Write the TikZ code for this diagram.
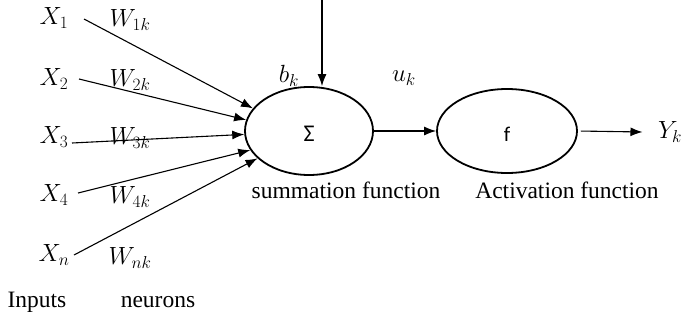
\documentclass[tikz,border=0pt]{standalone}
\usepackage{fontspec}
\setmainfont{Liberation Serif}
\newfontfamily\calib{Carlito}
\usetikzlibrary{shapes.geometric,arrows.meta}
\begin{document}
\begin{tikzpicture}[x=1pt,y=-1pt]
	% Styles
	\tikzstyle{fleche}=[-{Latex[length=12pt,width=9pt]},line width=1.1pt]
	\tikzstyle{cellule}=[ellipse,draw,line width=1.8pt,inner sep=0pt]
	\tikzstyle{etiquette}=[font=\fontsize{24}{28}\selectfont]
	\tikzstyle{commentaire}=[font=\fontsize{23.5}{28}\selectfont]
	% Dimensions
	\def\ColonneX{54}
	\def\ColonneW{130}
	\useasboundingbox (0,0) rectangle (684,324);
	% Noeuds
	\node[etiquette] (X1) at (\ColonneX,18) {$X_1$};
	\node[etiquette] (X2) at (\ColonneX,79) {$X_2$};
	\node[etiquette] (X3) at (\ColonneX,137) {$X_3$};
	\node[etiquette] (X4) at (\ColonneX,195) {$X_4$};
	\node[etiquette] (Xn) at (\ColonneX,255) {$X_n$};
	\node[etiquette] (W1) at (\ColonneW,20) {$W_{1k}$};
	\node[etiquette] (W2) at (\ColonneW,80) {$W_{2k}$};
	\node[etiquette] (W3) at (\ColonneW,138) {$W_{3k}$};
	\node[etiquette] (W4) at (\ColonneW,197) {$W_{4k}$};
	\node[etiquette] (Wn) at (\ColonneW,258) {$W_{nk}$};
	\node[commentaire] (entrees) at (37,302) {Inputs};
	\node[commentaire] (neurones) at (158,302) {neurons};
	%
	\node[cellule,minimum width=128pt,minimum height=88pt] (S) at (309,131) {};
	\node (sigma) at ([yshift=-3pt]S) {\calib\fontsize{24}{28}\selectfont Σ};
	\node[cellule,minimum width=140pt,minimum height=84pt] (F) at (507,131) {};
	\node (f) at ([yshift=-3pt]F) {\calib\fontsize{21}{24}\selectfont f};
	\node[etiquette] (b) at (289,76) {$b_k$};
	\node[etiquette] (u) at (404,78) {$u_k$};
	\node[etiquette] (Y) at (670,132) {$Y_k$};
	\node[commentaire] (somme) at (346,190) {summation function};
	\node[commentaire] (activ) at (567,190) {Activation function};
	% Extremites libres
	\coordinate (a1) at (84,19);
	\coordinate (a2) at (79,79);
	\coordinate (a3) at (72,143);
	\coordinate (a4) at (78,193);
	\coordinate (an) at (74,255);
	\coordinate (haut) at (322,0);
	% Arcs
	\draw[fleche] (a1)--(S.158);
	\draw[fleche] (a2)--(S.170);
	\draw[fleche] (a3)--(S.183);
	\draw[fleche] (a4)--(S.198);
	\draw[fleche] (an)--(S.208);
	\draw[fleche] (haut)--(haut |- S.north);
	\draw[fleche] (S.east)--(F.west);
	\draw[fleche,shorten <=3pt] (F.east)--([xshift=-12pt]Y.west);
\end{tikzpicture}
\end{document}
